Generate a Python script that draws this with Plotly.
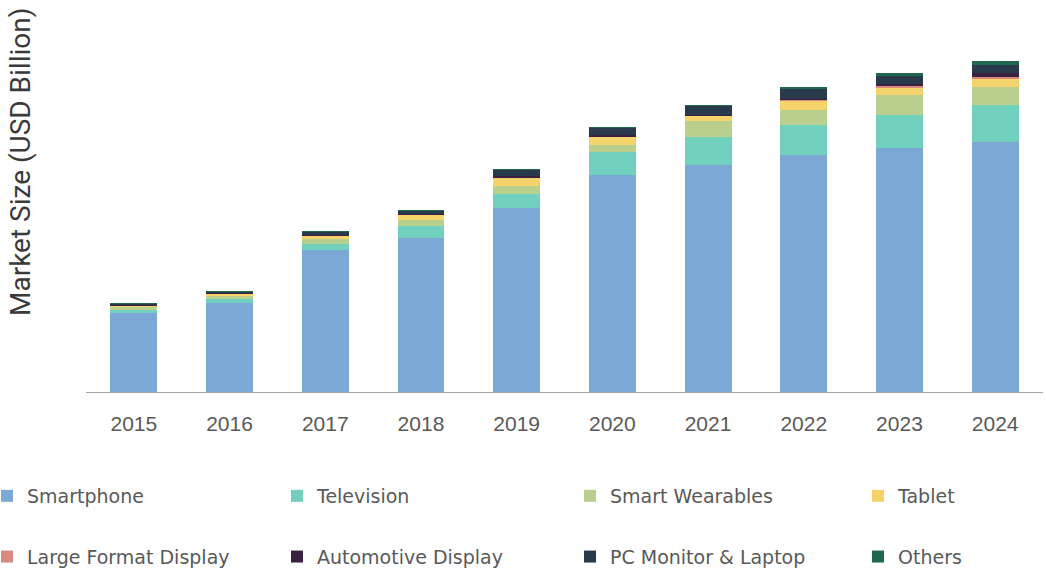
import plotly.graph_objects as go

years = ["2015", "2016", "2017", "2018", "2019", "2020", "2021", "2022", "2023", "2024"]

smartphone = [39.5, 44.5, 71.0, 77.0, 92.0, 108.5, 113.5, 118.5, 122.0, 125.0]
television = [1.5, 2.0, 3.0, 6.0, 7.0, 11.5, 14.0, 15.0, 16.5, 18.5]
smart_wearables = [1.5, 1.5, 2.5, 3.0, 4.0, 3.5, 8.0, 7.5, 10.0, 9.0]
tablet = [0.75, 1.0, 1.5, 2.5, 4.0, 4.0, 2.5, 4.5, 3.5, 4.0]
large_format_display = [0.1, 0.15, 0.25, 0.25, 0.25, 0.25, 0.25, 0.5, 1.0, 1.0]
automotive_display = [0.25, 0.25, 0.5, 0.5, 0.75, 0.75, 0.5, 0.75, 1.0, 2.0]
pc_monitor_laptop = [0.75, 1.0, 1.5, 1.5, 3.0, 3.5, 4.5, 5.0, 4.0, 4.0]
others = [0.1, 0.1, 0.15, 0.15, 0.25, 0.25, 0.25, 0.5, 1.5, 2.0]

# (name, values, colour, legend column)
series = [
    ("Smartphone", smartphone, "#7ba8d5", "legend"),
    ("Television", television, "#72d0bf", "legend2"),
    ("Smart Wearables", smart_wearables, "#b8cf8e", "legend3"),
    ("Tablet", tablet, "#f4d46a", "legend4"),
    ("Large Format Display", large_format_display, "#d98a80", "legend"),
    ("Automotive Display", automotive_display, "#3b2140", "legend2"),
    ("PC Monitor & Laptop", pc_monitor_laptop, "#283a4c", "legend3"),
    ("Others", others, "#1f6a4e", "legend4"),
]

fig = go.Figure()
for name, vals, color, leg in series:
    fig.add_trace(go.Bar(
        x=years, y=vals, name=name,
        marker=dict(color=color, line=dict(width=0)),
        legend=leg, legendgroup=name,
        hoverinfo="x+y+name",
    ))

W, H = 1046, 569
plot_left, plot_w = 86, 957
plot_top, plot_bottom = 10, 392
plot_h = plot_bottom - plot_top

legend_font = dict(family="DejaVu Sans", size=19, color="#595959")
legend_base = dict(
    orientation="v", traceorder="grouped", tracegroupgap=33,
    font=legend_font, bgcolor="rgba(0,0,0,0)", borderwidth=0,
    xref="paper", yref="paper",
    xanchor="left", yanchor="top", itemwidth=30,
)
col_px = [-13, 277, 570, 858]
legend_top_px = 477
legends = {}
for key, px in zip(["legend", "legend2", "legend3", "legend4"], col_px):
    legends[key] = dict(
        legend_base,
        x=(px - plot_left) / plot_w,
        y=(plot_bottom - legend_top_px) / plot_h,
    )

fig.update_layout(
    width=W, height=H,
    margin=dict(l=plot_left, r=W - plot_left - plot_w, t=plot_top,
                b=H - plot_bottom, autoexpand=False),
    paper_bgcolor="white", plot_bgcolor="white",
    barmode="stack", bargap=0.51,
    showlegend=True,
    xaxis=dict(
        showline=True, linecolor="#a6a6a6", linewidth=1,
        ticks="", showgrid=False, zeroline=False,
        tickfont=dict(family="Liberation Sans", size=21, color="#595959"),
        ticklabelstandoff=13,
    ),
    yaxis=dict(visible=False, range=[0, 191], fixedrange=True),
    annotations=[dict(
        text="Market Size (USD Billion)",
        xref="paper", yref="paper",
        x=(20 - plot_left) / plot_w, y=(plot_bottom - 162) / plot_h,
        xanchor="center", yanchor="middle",
        textangle=-90, showarrow=False,
        font=dict(family="Roboto", size=28, color="#3a3a3a"),
    )],
    **legends,
)

fig.write_html("out.html")
